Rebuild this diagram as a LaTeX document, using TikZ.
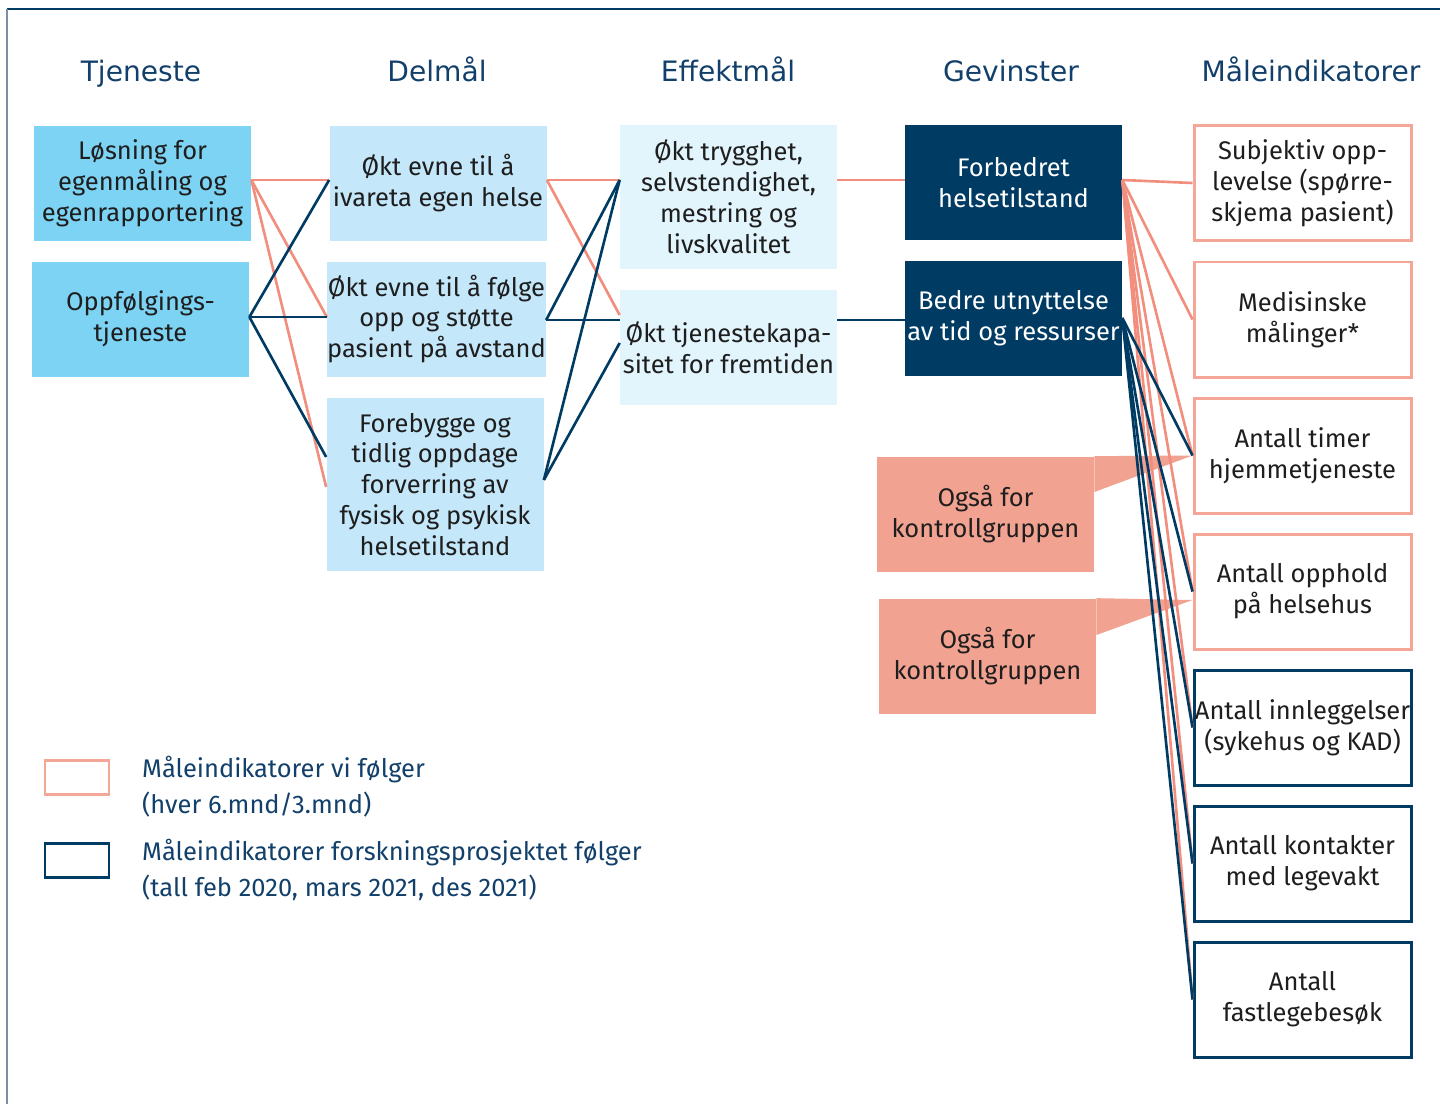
\documentclass[tikz,border=0pt]{standalone}
\usepackage{fontspec}
\setmainfont{Fira Sans}
\newfontfamily\titlefont{DejaVu Sans}
\usetikzlibrary{calc}
\definecolor{MapNavy}{HTML}{003B64}
\definecolor{MapTitle}{HTML}{12406A}
\definecolor{MapSky}{HTML}{7DD3F3}
\definecolor{MapPale}{HTML}{C4E7F9}
\definecolor{MapMist}{HTML}{E2F4FC}
\definecolor{MapSalmon}{HTML}{F28E7E}
\definecolor{MapRose}{HTML}{F4A796}
\definecolor{MapCall}{HTML}{F2A291}
\definecolor{MapFrame}{HTML}{7A90A8}
\definecolor{MapInk}{HTML}{1E1E1E}
\tikzset{
  every node/.style={font=\fontsize{14.5}{17.6}\selectfont, text=MapInk},
  head/.style={anchor=base, font=\titlefont\fontsize{16}{18}\selectfont, text=MapTitle},
  box/.style={minimum width=43.4mm, minimum height=23mm, inner sep=0pt, align=center},
  service/.style={box, fill=MapSky},
  partgoal/.style={box, fill=MapPale},
  effect/.style={box, fill=MapMist},
  gain/.style={box, fill=MapNavy, text=white},
  ours/.style={box, draw=MapRose, line width=1.7pt, fill=white},
  theirs/.style={box, draw=MapNavy, line width=1.7pt, fill=white},
  callout/.style={box, fill=MapCall},
  warm/.style={draw=MapSalmon, line width=1.5pt},
  cool/.style={draw=MapNavy, line width=1.5pt},
  legendbox/.style={minimum width=12.8mm, minimum height=6.8mm, inner sep=0pt, line width=1.7pt, fill=white},
  legendtext/.style={anchor=west, align=left, text=MapTitle, font=\fontsize{14.5}{20.4}\selectfont},
}
\begin{document}
\begin{tikzpicture}[x=0.2mm,y=-0.2mm]
  \useasboundingbox (0,0) rectangle (1440,1104);
  % Frame
  \draw[MapNavy, line width=0.8pt] (7,9) -- (1440,9);
  \draw[MapFrame, line width=0.8pt] (7,9) -- (7,1104);
  % Column heads
  \node[head] (hTj) at (141,81) {Tjeneste};
  \node[head] (hDel) at (437,81) {Delmål};
  \node[head] (hEff) at (728,81) {Effektmål};
  \node[head] (hGev) at (1011,81) {Gevinster};
  \node[head] (hMaal) at (1311,81) {Måleindikatorer};
  % Tjeneste
  \node[service] (los) at (142.5,183) {Løsning for\\egenmåling og\\egenrapportering};
  \node[service] (opp) at (140.5,319) {Oppfølgings-\\tjeneste};
  % Delmaal
  \node[partgoal] (ivareta) at (438,183) {Økt evne til å\\ivareta egen helse};
  \node[partgoal] (folge) at (436.5,319) {Økt evne til å følge\\opp og støtte\\pasient på avstand};
  \node[partgoal, minimum height=34.6mm] (forebygge) at (435,484.5) {Forebygge og\\tidlig oppdage\\forverring av\\fysisk og psykisk\\helsetilstand};
  % Effektmaal
  \node[effect, minimum height=28.8mm] (trygghet) at (728.5,197) {Økt trygghet,\\selvstendighet,\\mestring og\\livskvalitet};
  \node[effect] (kapasitet) at (728.5,347.5) {Økt tjenestekapa-\\sitet for fremtiden};
  % Gevinster
  \node[gain] (forbedret) at (1013.5,182.5) {Forbedret\\helsetilstand};
  \node[gain] (bedre) at (1013.5,318.5) {Bedre utnyttelse\\av tid og ressurser};
  % Maaleindikatorer
  \node[ours] (ind1) at (1302.5,183) {Subjektiv opp-\\levelse (spørre-\\skjema pasient)};
  \node[ours] (ind2) at (1302.5,319.5) {Medisinske\\målinger*};
  \node[ours] (ind3) at (1302.5,455.5) {Antall timer\\hjemmetjeneste};
  \node[ours] (ind4) at (1302.5,591.5) {Antall opphold\\på helsehus};
  \node[theirs] (ind5) at (1302.5,727.5) {Antall innleggelser\\(sykehus og KAD)};
  \node[theirs] (ind6) at (1302.5,863.5) {Antall kontakter\\med legevakt};
  \node[theirs] (ind7) at (1302.5,999.5) {Antall\\fastlegebesøk};
  % Callouts
  \node[callout] (callA) at (985.5,514) {Også for\\kontrollgruppen};
  \fill[MapCall] (callA.north east) -- (ind3.west) -- (callA.east |- 0,492) -- cycle;
  \node[callout] (callB) at (987.5,656) {Også for\\kontrollgruppen};
  \fill[MapCall] (callB.north east) -- (ind4.west |- 0,600) -- (callB.east |- 0,635) -- cycle;
  % Tjeneste to Delmaal
  \draw[warm] (los.east |- 0,180) -- (ivareta.west |- 0,180);
  \draw[warm] (los.east |- 0,180) -- (folge.west |- 0,317);
  \draw[warm] (los.east |- 0,180) -- (forebygge.west |- 0,487);
  \draw[cool] (opp.east |- 0,317) -- (ivareta.west |- 0,180);
  \draw[cool] (opp.east |- 0,317) -- (folge.west |- 0,317);
  \draw[cool] (opp.east |- 0,317) -- (forebygge.west |- 0,457);
  % Delmaal to Effektmaal
  \draw[warm] (ivareta.east |- 0,180) -- (trygghet.west |- 0,180);
  \draw[warm] (ivareta.east |- 0,180) -- (kapasitet.west |- 0,315);
  \draw[cool] (folge.east |- 0,320) -- (trygghet.west |- 0,180);
  \draw[cool] (folge.east |- 0,320) -- (kapasitet.west |- 0,320);
  \draw[cool] (forebygge.east |- 0,480) -- (trygghet.west |- 0,180);
  \draw[cool] (forebygge.east |- 0,480) -- (kapasitet.west |- 0,343);
  % Effektmaal to Gevinster
  \draw[warm] (trygghet.east |- 0,180) -- (forbedret.west |- 0,180);
  \draw[cool] (kapasitet.east |- 0,320) -- (bedre.west |- 0,320);
  % Gevinster to Maaleindikatorer
  \foreach \k in {1,...,7}
    \draw[warm] (forbedret.east |- 0,180) -- (ind\k.west);
  \foreach \k in {3,...,7}
    \draw[cool] (bedre.east |- 0,318) -- (ind\k.west);
  % Legend
  \node[legendbox, draw=MapRose] (legOurs) at (77,777) {};
  \node[legendbox, draw=MapNavy] (legTheirs) at (77,860) {};
  \node[legendtext] (legOursText) at (136,787) {Måleindikatorer vi følger\\(hver 6.mnd/3.mnd)};
  \node[legendtext] (legTheirsText) at (136,870) {Måleindikatorer forskningsprosjektet følger\\(tall feb 2020, mars 2021, des 2021)};
\end{tikzpicture}
\end{document}
